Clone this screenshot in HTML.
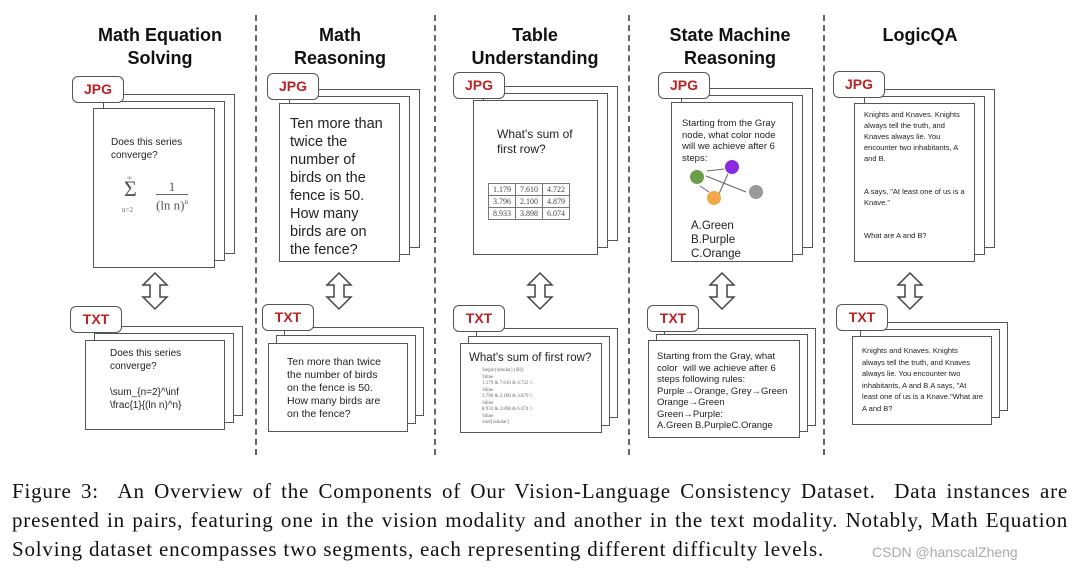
<!DOCTYPE html>
<html><head><meta charset="utf-8"><style>
body{margin:0;width:1080px;height:572px;background:#fff;position:relative;overflow:hidden;font-family:"Liberation Sans",Arial,sans-serif;color:#222}
div{box-sizing:border-box}
.a{position:absolute}
.pg{position:absolute;border:1.5px solid #555;background:#fff}
.bd{position:absolute;border:1.5px solid #555;border-radius:6px;background:#fff;color:#b22;font-weight:bold;font-size:14px;text-align:center;line-height:24px;width:52px;height:27px}
.t{position:absolute;font-weight:bold;font-size:18px;text-align:center;line-height:23px;color:#111}
.dl{position:absolute;top:15px;height:440px;border-left:2px dashed #666}
.tx{position:absolute;font-size:9px;line-height:12px;color:#222}
.cap{position:absolute;left:12px;width:1056px;font-family:"Liberation Serif",serif;font-size:21px;letter-spacing:0.8px;color:#111;white-space:nowrap;text-align:justify;text-align-last:justify}
</style></head><body>
<div class="dl" style="left:255px"></div>
<div class="dl" style="left:434px"></div>
<div class="dl" style="left:628px"></div>
<div class="dl" style="left:823px"></div>

<div class="t" style="left:60px;top:24px;width:200px">Math Equation<br>Solving</div>
<div class="t" style="left:260px;top:24px;width:160px">Math<br>Reasoning</div>
<div class="t" style="left:440px;top:24px;width:190px">Table<br>Understanding</div>
<div class="t" style="left:630px;top:24px;width:200px">State Machine<br>Reasoning</div>
<div class="t" style="left:830px;top:24px;width:180px">LogicQA</div>

<svg class="a" style="left:0;top:0" width="1080" height="572">
<g fill="#fff" stroke="#444" stroke-width="1.5">
<path d="M155,273 l-12,12 h7 v12 h-7 l12,12 l12,-12 h-7 v-12 h7 z"/>
<path d="M339,273 l-12,12 h7 v12 h-7 l12,12 l12,-12 h-7 v-12 h7 z"/>
<path d="M540,273 l-12,12 h7 v12 h-7 l12,12 l12,-12 h-7 v-12 h7 z"/>
<path d="M722,273 l-12,12 h7 v12 h-7 l12,12 l12,-12 h-7 v-12 h7 z"/>
<path d="M910,273 l-12,12 h7 v12 h-7 l12,12 l12,-12 h-7 v-12 h7 z"/>
</g>
</svg>

<!-- col1 JPG -->
<div class="pg" style="left:113px;top:94px;width:122px;height:160px"></div>
<div class="pg" style="left:103px;top:101px;width:122px;height:160px"></div>
<div class="pg" style="left:93px;top:108px;width:122px;height:160px"></div>
<div class="bd" style="left:72px;top:76px">JPG</div>
<div class="tx" style="left:111px;top:136px;font-size:10px;line-height:13px">Does this series<br>converge?</div>
<div class="a" style="left:124px;top:176px;font-family:'Liberation Serif',serif;color:#555;font-size:11px"><span style="font-size:22px">&Sigma;</span></div>
<div class="a" style="left:127px;top:174px;font-family:'Liberation Serif',serif;color:#666;font-size:7px">&infin;</div>
<div class="a" style="left:122px;top:206px;font-family:'Liberation Serif',serif;color:#666;font-size:7px">n=2</div>
<div class="a" style="left:150px;top:180px;font-family:'Liberation Serif',serif;color:#555;font-size:13px;text-align:center;width:44px;line-height:14px">1<br><span style="border-top:1px solid #666;display:inline-block">(ln n)<sup style="font-size:7px">n</sup></span></div>
<!-- col1 TXT -->
<div class="pg" style="left:103px;top:326px;width:140px;height:90px"></div>
<div class="pg" style="left:94px;top:333px;width:140px;height:90px"></div>
<div class="pg" style="left:85px;top:340px;width:140px;height:90px"></div>
<div class="bd" style="left:70px;top:306px">TXT</div>
<div class="tx" style="left:110px;top:347px;font-size:10px;line-height:13px">Does this series<br>converge?<br><br>\sum_{n=2}^\inf<br>\frac{1}{(ln n)^n}</div>

<!-- col2 JPG -->
<div class="pg" style="left:299px;top:89px;width:121px;height:159px"></div>
<div class="pg" style="left:289px;top:96px;width:121px;height:159px"></div>
<div class="pg" style="left:279px;top:103px;width:121px;height:159px"></div>
<div class="bd" style="left:267px;top:73px">JPG</div>
<div class="tx" style="left:290px;top:115px;font-size:14.5px;line-height:18px">Ten more than<br>twice the<br>number of<br>birds on the<br>fence is 50.<br>How many<br>birds are on<br>the fence?</div>
<!-- col2 TXT -->
<div class="pg" style="left:284px;top:327px;width:140px;height:89px"></div>
<div class="pg" style="left:276px;top:335px;width:140px;height:89px"></div>
<div class="pg" style="left:268px;top:343px;width:140px;height:89px"></div>
<div class="bd" style="left:262px;top:304px">TXT</div>
<div class="tx" style="left:287px;top:356px;font-size:10.5px;line-height:13px">Ten more than twice<br>the number of birds<br>on the fence is 50.<br>How many birds are<br>on the fence?</div>

<!-- col3 JPG -->
<div class="pg" style="left:493px;top:86px;width:125px;height:155px"></div>
<div class="pg" style="left:483px;top:93px;width:125px;height:155px"></div>
<div class="pg" style="left:473px;top:100px;width:125px;height:155px"></div>
<div class="bd" style="left:453px;top:72px">JPG</div>
<div class="tx" style="left:497px;top:127px;font-size:12px;line-height:15px">What's sum of<br>first row?</div>
<table class="a" style="left:488px;top:183px;border-collapse:collapse;font-family:'Liberation Serif',serif;font-size:8px;color:#444">
<tr><td style="border:1px solid #777;padding:1px 4px">1.179</td><td style="border:1px solid #777;padding:1px 4px">7.610</td><td style="border:1px solid #777;padding:1px 4px">4.722</td></tr>
<tr><td style="border:1px solid #777;padding:1px 4px">3.796</td><td style="border:1px solid #777;padding:1px 4px">2.100</td><td style="border:1px solid #777;padding:1px 4px">4.879</td></tr>
<tr><td style="border:1px solid #777;padding:1px 4px">8.933</td><td style="border:1px solid #777;padding:1px 4px">3.898</td><td style="border:1px solid #777;padding:1px 4px">6.074</td></tr></table>
<!-- col3 TXT -->
<div class="pg" style="left:476px;top:328px;width:142px;height:90px"></div>
<div class="pg" style="left:468px;top:336px;width:142px;height:90px"></div>
<div class="pg" style="left:460px;top:343px;width:142px;height:90px"></div>
<div class="bd" style="left:453px;top:305px">TXT</div>
<div class="tx" style="left:469px;top:352px;font-size:11.5px">What's sum of first row?</div>
<div class="tx" style="left:482px;top:368px;font-size:5px;line-height:6.5px;color:#666;font-family:'Liberation Serif',serif">\begin{tabular}{|lll|}<br>\hline<br>1.179 &amp; 7.610 &amp; 4.722 \\<br>\hline<br>3.796 &amp; 2.100 &amp; 4.879 \\<br>\hline<br>8.933 &amp; 3.898 &amp; 6.074 \\<br>\hline<br>\end{tabular}</div>

<!-- col4 JPG -->
<div class="pg" style="left:691px;top:88px;width:122px;height:160px"></div>
<div class="pg" style="left:681px;top:95px;width:122px;height:160px"></div>
<div class="pg" style="left:671px;top:102px;width:122px;height:160px"></div>
<div class="bd" style="left:658px;top:72px">JPG</div>
<div class="tx" style="left:682px;top:118px;font-size:9.5px;line-height:11.5px">Starting from the Gray<br>node, what color node<br>will we achieve after 6<br>steps:</div>
<svg class="a" style="left:680px;top:160px" width="100" height="50">
<g stroke="#666" stroke-width="1" fill="none"><line x1="27" y1="11" x2="44" y2="9"/><line x1="48" y1="14" x2="38" y2="36"/><line x1="66" y1="32" x2="26" y2="16"/><line x1="29" y1="32" x2="20" y2="26"/></g>
<circle cx="17" cy="17" r="7" fill="#6a9f4a"/><circle cx="52" cy="7" r="7" fill="#8a2be2"/><circle cx="76" cy="32" r="7" fill="#999"/><circle cx="34" cy="38" r="7" fill="#f0a848"/>
</svg>
<div class="tx" style="left:691px;top:219px;font-size:11.5px;line-height:14px">A.Green<br>B.Purple<br>C.Orange</div>
<!-- col4 TXT -->
<div class="pg" style="left:664px;top:328px;width:152px;height:98px"></div>
<div class="pg" style="left:656px;top:334px;width:152px;height:98px"></div>
<div class="pg" style="left:648px;top:340px;width:152px;height:98px"></div>
<div class="bd" style="left:647px;top:305px">TXT</div>
<div class="tx" style="left:657px;top:351px;font-size:9.5px;line-height:11.5px">Starting from the Gray, what<br>color &nbsp;will we achieve after 6<br>steps following rules:<br>Purple→Orange, Grey→Green<br>Orange→Green<br>Green→Purple:<br>A.Green B.PurpleC.Orange</div>

<!-- col5 JPG -->
<div class="pg" style="left:874px;top:89px;width:121px;height:159px"></div>
<div class="pg" style="left:864px;top:96px;width:121px;height:159px"></div>
<div class="pg" style="left:854px;top:103px;width:121px;height:159px"></div>
<div class="bd" style="left:833px;top:71px">JPG</div>
<div class="tx" style="left:864px;top:109px;font-size:7.5px;line-height:11px">Knights and Knaves. Knights<br>always tell the truth, and<br>Knaves always lie. You<br>encounter two inhabitants, A<br>and B.<br><br><br>A says, "At least one of us is a<br>Knave."<br><br><br>What are A and B?</div>
<!-- col5 TXT -->
<div class="pg" style="left:868px;top:322px;width:140px;height:89px"></div>
<div class="pg" style="left:860px;top:329px;width:140px;height:89px"></div>
<div class="pg" style="left:852px;top:336px;width:140px;height:89px"></div>
<div class="bd" style="left:836px;top:304px">TXT</div>
<div class="tx" style="left:862px;top:345px;font-size:7.5px;line-height:11.5px">Knights and Knaves. Knights<br>always tell the truth, and Knaves<br>always lie. You encounter two<br>inhabitants, A and B.A says, "At<br>least one of us is a Knave."What are<br>A and B?</div>

<div class="cap" style="top:479px">Figure 3: &nbsp;An Overview of the Components of Our Vision-Language Consistency Dataset. &nbsp;Data instances are</div>
<div class="cap" style="top:508px">presented in pairs, featuring one in the vision modality and another in the text modality. Notably, Math Equation</div>
<div class="cap" style="top:537px;width:auto;text-align:left;text-align-last:auto">Solving dataset encompasses two segments, each representing different difficulty levels.</div>
<div class="a" style="left:872px;top:544px;font-size:14px;color:#aaa">CSDN @hanscalZheng</div>
</body></html>
